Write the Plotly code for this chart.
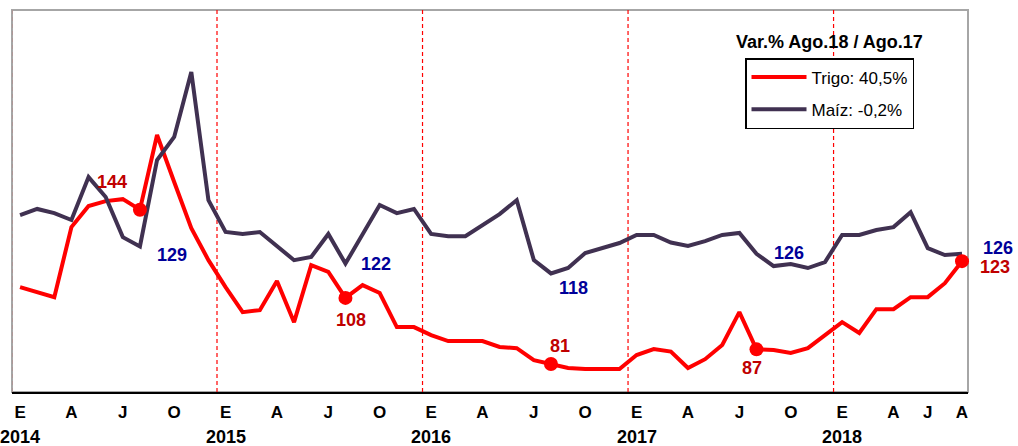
import plotly.graph_objects as go

# Monthly index: 0 = Ene 2014 ... 55 = Ago 2018
months = list(range(56))

trigo = [112.4, 110.4, 108.3, 136.9, 145.5, 147.5, 148.3, 144.0, 174.5, 155.3, 136.5, 123.4,
         112.4, 102.2, 103.0, 114.9, 98.1, 121.4, 118.6, 108.0, 113.2, 110.0, 96.1, 96.1,
         92.8, 90.4, 90.4, 90.4, 88.0, 87.5, 82.6, 81.0, 79.4, 79.0, 79.0, 79.0,
         84.7, 87.1, 86.1, 79.4, 83.0, 88.8, 102.2, 87.0, 86.7, 85.5, 87.5, 92.8,
         98.1, 93.7, 103.4, 103.4, 108.3, 108.3, 114.0, 123.0]

maiz = [141.8, 144.3, 142.6, 139.8, 157.3, 149.2, 132.8, 129.0, 164.3, 173.7, 200.2, 147.9,
        134.9, 134.1, 134.9, 129.2, 123.4, 124.7, 134.1, 122.0, 133.7, 145.9, 142.6, 144.3,
        134.1, 133.2, 133.2, 137.7, 142.2, 147.9, 123.4, 118.0, 120.2, 126.3, 128.3, 130.4,
        133.7, 133.7, 130.6, 129.2, 131.2, 133.7, 134.5, 126.0, 121.0, 121.8, 120.2, 122.6,
        133.7, 133.7, 135.7, 136.9, 143.0, 128.3, 125.5, 126.0]

# August points highlighted
aug_idx = [7, 19, 31, 43, 55]

tick_vals = [0, 3, 6, 9, 12, 15, 18, 21, 24, 27, 30, 33, 36, 39, 42, 45, 48, 51, 53, 55]
tick_text = ["E", "A", "J", "O", "E", "A", "J", "O", "E", "A", "J", "O",
             "E", "A", "J", "O", "E", "A", "J", "A"]
year_pos = [0, 12, 24, 36, 48]
year_labels = ["2014", "2015", "2016", "2017", "2018"]
year_bounds = [-0.5, 11.5, 23.5, 35.5, 47.5]

legend_title = "Var.% Ago.18 / Ago.17"
trigo_name = "Trigo: 40,5%"
maiz_name = "Maíz: -0,2%"

RED = "#FF0000"
PURPLE = "#403151"
LBL_RED = "#C00000"
LBL_BLUE = "#000099"

W, H = 1018, 446
L, T, R, B = 12, 10, 50, 54
PW, PH = W - L - R, H - T - B

fig = go.Figure()
fig.add_trace(go.Scatter(x=months, y=trigo, mode="lines", name=trigo_name,
                         line=dict(color=RED, width=4), legendgroup="t"))
fig.add_trace(go.Scatter(x=months, y=maiz, mode="lines", name=maiz_name,
                         line=dict(color=PURPLE, width=4), legendgroup="m"))
fig.add_trace(go.Scatter(x=aug_idx, y=[trigo[i] for i in aug_idx], mode="markers",
                         marker=dict(color=RED, size=14), showlegend=False, hoverinfo="skip",
                         cliponaxis=False))

# data labels (offsets in px)
trigo_shift = [(-28, 28), (6, -22), (9, 18), (-4, -19), (33, -6)]
maiz_shift = [(32, -9), (31, 0), (23, -15), (33, 1), (36, 6)]
for i, (dx, dy) in zip(aug_idx, trigo_shift):
    fig.add_annotation(x=i, y=trigo[i], text="<b>%d</b>" % round(trigo[i]), showarrow=False,
                       xshift=dx, yshift=dy, font=dict(color=LBL_RED, size=18))
for i, (dx, dy) in zip(aug_idx, maiz_shift):
    fig.add_annotation(x=i, y=maiz[i], text="<b>%d</b>" % round(maiz[i]), showarrow=False,
                       xshift=dx, yshift=dy, font=dict(color=LBL_BLUE, size=18))

for xp, yl in zip(year_pos, year_labels):
    fig.add_annotation(x=xp, y=0, yref="paper", yanchor="top", yshift=-33, text="<b>%s</b>" % yl,
                       showarrow=False, font=dict(size=18, color="black"))

# frame
fig.add_shape(type="rect", xref="paper", yref="paper", x0=0, x1=1, y0=0, y1=1,
              line=dict(color="#A6A6A6", width=2), layer="below")
for xb in year_bounds:
    fig.add_shape(type="line", x0=xb, x1=xb, y0=0, y1=1, yref="paper",
                  line=dict(color=RED, width=1.2, dash="4px,3px"), layer="below")

fig.add_annotation(xref="paper", yref="paper", x=(829 - L) / PW, y=(392 - 42) / PH,
                   xanchor="center", yanchor="middle",
                   text="<b>%s</b>" % legend_title, showarrow=False,
                   font=dict(size=18, color="black"))

fig.update_layout(
    width=W, height=H,
    margin=dict(l=L, r=R, t=T, b=B),
    paper_bgcolor="white", plot_bgcolor="white",
    font=dict(family="Liberation Sans, Arial, sans-serif", color="black"),
    showlegend=True,
    legend=dict(x=(745 - L) / PW, y=(392 - 58) / PH, xanchor="left", yanchor="top",
                bgcolor="white", bordercolor="black", borderwidth=1.5,
                font=dict(family="Liberation Sans, Arial", size=17),
                itemwidth=55, tracegroupgap=7),
    xaxis=dict(range=[-0.47, 55.35], tickvals=tick_vals,
               ticktext=["<b>%s</b>" % t for t in tick_text],
               tickfont=dict(size=17, color="black"), showgrid=False, zeroline=False,
               showline=True, linecolor="black", linewidth=2, ticks="", ticklabelstandoff=4),
    yaxis=dict(range=[69.6, 225.5], showticklabels=False, showgrid=False, zeroline=False,
               showline=False, ticks=""),
)

fig.write_html("out.html", config={"displayModeBar": False},
               post_script="document.body.style.margin='0';document.body.style.overflow='hidden';")
